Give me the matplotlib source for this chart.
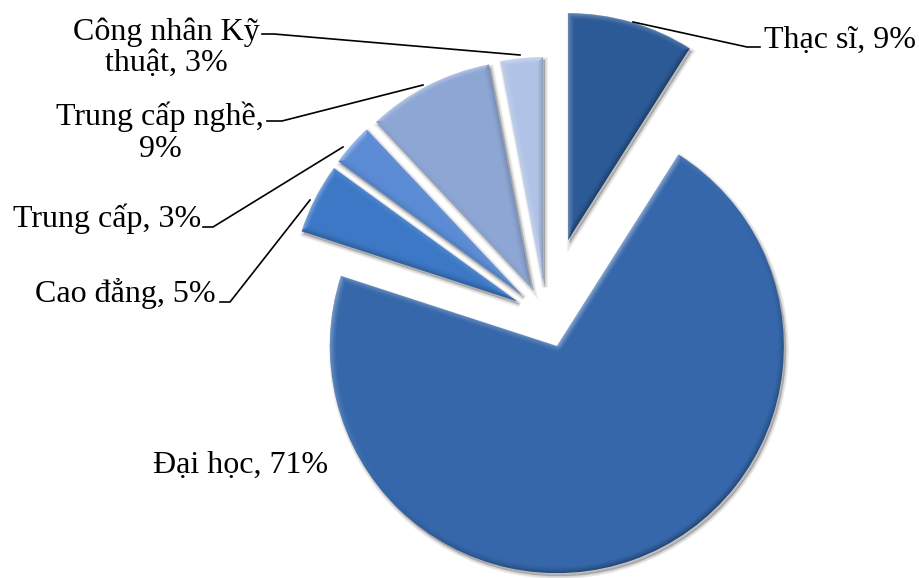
import numpy as np
import matplotlib
matplotlib.use("Agg")
import matplotlib.pyplot as plt
from matplotlib.patches import Wedge

# Education level distribution (percent)
labels = ["Thạc sĩ", "Đại học", "Cao đẳng", "Trung cấp", "Trung cấp nghề", "Công nhân Kỹ\nthuật"]
values = [9, 71, 5, 3, 9, 3]
colors = ["#2c5a96", "#3567aa", "#3c78c6", "#5b8bd4", "#8da6d4", "#b0c3e6"]
# slice offsets from the centre, in pixels
explode = [79, 32, 32, 32, 32, 32]

W, H = 920, 578
fig = plt.figure(figsize=(W / 100, H / 100), dpi=100)
ax = fig.add_axes([0, 0, 1, 1])

R = 227
center = (546, H - 316)

wedges, _ = ax.pie(values, explode=explode, colors=colors, startangle=90,
                   counterclock=False, radius=R, center=center,
                   wedgeprops=dict(linewidth=0, zorder=3), frame=True)
ax.set_aspect("equal")
ax.set_xlim(0, W)
ax.set_ylim(0, H)
ax.axis("off")

# soft drop shadow under each slice
for w in wedges:
    cx, cy = w.center
    for k in range(6):
        sh = Wedge((cx + 2, cy - 3), w.r, w.theta1, w.theta2,
                   facecolor="black", edgecolor="black", alpha=0.035,
                   linewidth=0.8 * k + 0.5, zorder=1)
        ax.add_patch(sh)

# bevel shading: light from upper left
L = np.array([-0.6, 0.8])
L = L / np.linalg.norm(L)
bw = 7.0
for w in wedges:
    cx, cy = w.center
    r0 = w.r
    t1, t2 = np.radians(w.theta1), np.radians(w.theta2)
    x0, x1 = cx - r0 - 2, cx + r0 + 2
    y0, y1 = cy - r0 - 2, cy + r0 + 2
    xs = np.arange(x0, x1, 0.5)
    ys = np.arange(y0, y1, 0.5)
    X, Y = np.meshgrid(xs, ys)
    px, py = X - cx, Y - cy
    rr = np.hypot(px, py) + 1e-9
    d_arc = r0 - rr
    u1 = np.array([np.cos(t1), np.sin(t1)])
    u2 = np.array([np.cos(t2), np.sin(t2)])
    d1 = np.where(px * u1[0] + py * u1[1] > 0, np.abs(u1[0] * py - u1[1] * px), rr)
    d2 = np.where(px * u2[0] + py * u2[1] > 0, np.abs(u2[0] * py - u2[1] * px), rr)
    n_arc = (px / rr, py / rr)
    n1 = (np.sin(t1), -np.cos(t1))
    n2 = (-np.sin(t2), np.cos(t2))
    D = np.stack([d_arc, d1, d2])
    idx = np.argmin(D, axis=0)
    d = np.min(D, axis=0)
    nx = np.where(idx == 0, n_arc[0], np.where(idx == 1, n1[0], n2[0]))
    ny = np.where(idx == 0, n_arc[1], np.where(idx == 1, n1[1], n2[1]))
    s = nx * L[0] + ny * L[1]
    f = np.clip(1 - d / bw, 0, 1) ** 1.5
    rgba = np.zeros(X.shape + (4,))
    light = s > 0
    rgba[..., 0:3] = np.where(light[..., None], 1.0, 0.0)
    rgba[..., 3] = np.where(light, 0.45 * s * f, 0.35 * (-s) * f)
    im = ax.imshow(rgba, extent=(x0, x1, y0, y1), origin="lower",
                   interpolation="bilinear", zorder=4)
    im.set_clip_path(w)

ax.set_aspect("equal")
ax.set_xlim(0, W)
ax.set_ylim(0, H)

font = dict(family="Liberation Serif", fontsize=23, color="black")


def yy(p):
    return H - p


# labels and leader lines (positions measured from the top edge)
ax.text(764, yy(48), f"{labels[0]}, {values[0]}%", ha="left", va="baseline", **font)
ax.plot([633, 747, 760], [yy(22), yy(47), yy(47)], color="black", lw=1.2, zorder=5)

ax.text(153, yy(473), f"{labels[1]}, {values[1]}%", ha="left", va="baseline", **font)

ax.text(35, yy(302), f"{labels[2]}, {values[2]}%", ha="left", va="baseline", **font)
ax.plot([220, 230, 310], [yy(302), yy(302), yy(200)], color="black", lw=1.2, zorder=5)

ax.text(13, yy(227), f"{labels[3]}, {values[3]}%", ha="left", va="baseline", **font)
ax.plot([203, 213, 343], [yy(227), yy(227), yy(147)], color="black", lw=1.2, zorder=5)

ax.text(160, yy(157), "Trung cấp nghề,\n" + f"{values[4]}%", ha="center", va="baseline",
        multialignment="center", linespacing=1.15, **font)
ax.plot([267, 282, 423], [yy(121), yy(121), yy(85)], color="black", lw=1.2, zorder=5)

ax.text(166, yy(71), f"{labels[5]}, {values[5]}%", ha="center", va="baseline",
        multialignment="center", linespacing=1.1, **font)
ax.plot([262, 274, 520], [yy(34), yy(34), yy(55)], color="black", lw=1.2, zorder=5)

fig.savefig("out.png", dpi=100)
